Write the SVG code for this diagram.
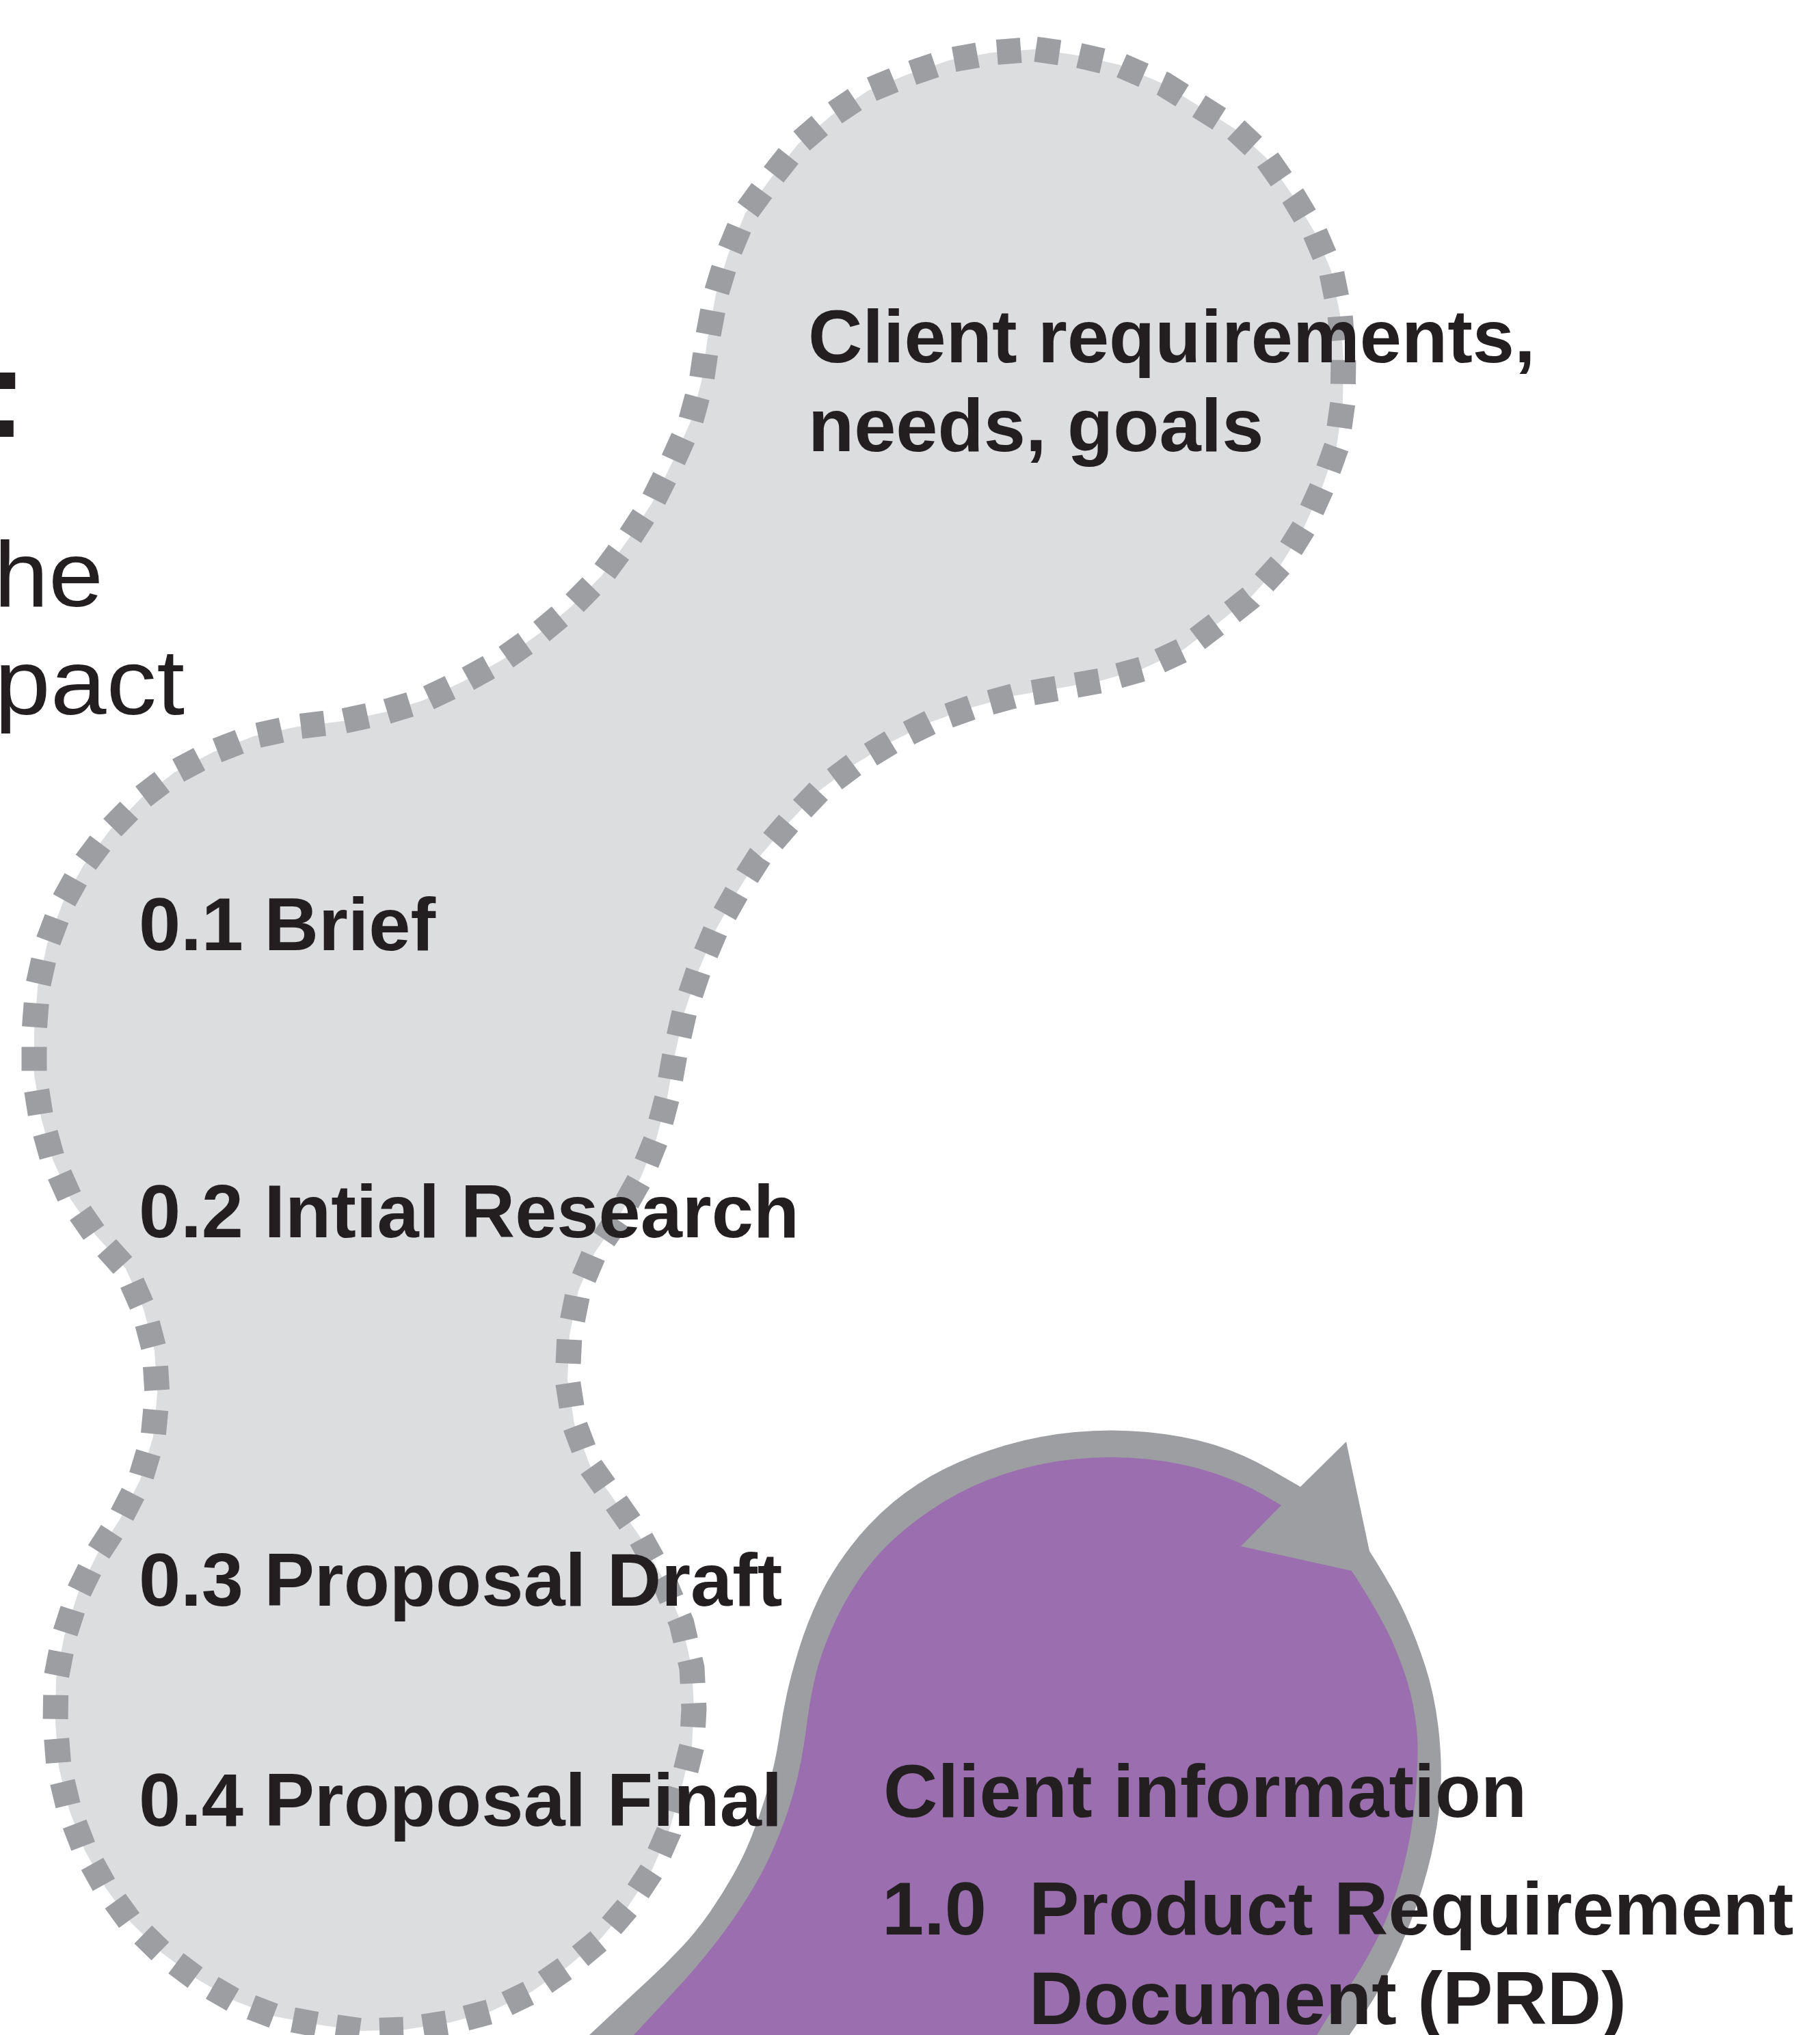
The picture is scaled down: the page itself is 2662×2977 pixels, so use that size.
<svg xmlns="http://www.w3.org/2000/svg" xmlns:xlink="http://www.w3.org/1999/xlink" width="2662" height="2977" viewBox="0 0 2662 2977">
<style>
  .bold { font-family: "Liberation Sans", Arial, Helvetica, sans-serif; font-weight: bold; fill: #231f20; }
  .light { font-family: "Liberation Sans", Arial, Helvetica, sans-serif; font-weight: 300; fill: #231f20; }
  .lbl { font-size: 110px; }
  .band { fill: #9d9ea2; }
  .purple { fill: #9b6faf; }
</style>
<defs>
  <path id="blob" d="M 1515,72 L 1577,81 L 1638,95 L 1702,123 L 1758,158 L 1807,189 L 1853,232 L 1892,288 L 1923,340 L 1947,396 L 1960,460 L 1965,525 L 1964,589 L 1955,653 L 1934,712 L 1907,772 L 1874,825 L 1829,874 L 1781,912 L 1730,951 L 1670,979 L 1609,996 L 1547,1007 L 1483,1018 L 1421,1035 L 1362,1056 L 1306,1084 L 1250,1118 L 1198,1157 L 1154,1203 L 1111,1253 L 1078,1305 L 1047,1360 L 1022,1419 L 1001,1481 L 987,1543 L 976,1605 L 960,1666 L 937,1723 L 903,1784 L 869,1834 L 846,1888 L 833,1953 L 830,2018 L 840,2083 L 863,2144 L 899,2195 L 936,2248 L 970,2310 L 997,2375 L 1012,2440 L 1015,2500 L 1012,2554 L 997,2614 L 978,2680 L 953,2737 L 918,2790 L 877,2838 L 829,2878 L 777,2914 L 717,2943 L 657,2959 L 593,2969 L 529,2971 L 466,2962 L 403,2950 L 343,2927 L 288,2895 L 237,2857 L 191,2812 L 154,2761 L 124,2707 L 101,2647 L 86,2585 L 81,2521 L 82,2455 L 94,2393 L 114,2331 L 142,2274 L 175,2223 L 205,2165 L 224,2102 L 230,2039 L 226,1976 L 210,1915 L 184,1856 L 140,1807 L 103,1754 L 77,1696 L 60,1635 L 50,1572 L 50,1509 L 55,1444 L 69,1381 L 92,1320 L 122,1266 L 161,1214 L 207,1167 L 255,1130 L 312,1100 L 371,1077 L 435,1063 L 501,1055 L 562,1042 L 618,1025 L 679,996 L 735,965 L 787,928 L 836,887 L 880,842 L 919,789 L 954,735 L 982,679 L 1010,617 L 1026,558 L 1035,495 L 1047,431 L 1065,372 L 1090,312 L 1128,260 L 1167,211 L 1217,168 L 1269,133 L 1327,109 L 1389,88 L 1450,77 Z"/>
</defs>
<rect x="0" y="0" width="2662" height="2977" fill="#ffffff"/>

<g id="title-fragment">
  <text class="bold" x="30" y="693" font-size="215" text-anchor="end">F</text>
  <text class="light" x="-9" y="887" font-size="136" textLength="160" lengthAdjust="spacingAndGlyphs">he</text>
  <text class="light" x="-8" y="1045" font-size="136" textLength="278" lengthAdjust="spacingAndGlyphs">pact</text>
</g>

<g id="connectors"></g>

<g id="node-client-information">
  <path class="band" d="M 840,3010 L 862,2977 Q 923,2920 948,2897 Q 973,2874 996.5,2849 Q 1020,2824 1038.5,2797 Q 1057,2770 1072,2743.5 Q 1087,2717 1098.5,2688.5 Q 1110,2660 1118.5,2632 Q 1127,2604 1132,2582 Q 1137,2560 1141,2532.5 Q 1145,2505 1151,2477.5 Q 1157,2450 1168.5,2412.5 Q 1180,2375 1197.5,2338 Q 1215,2301 1243.5,2263.5 Q 1272,2226 1306.5,2197.5 Q 1341,2169 1381,2149 Q 1421,2129 1470,2114.5 Q 1519,2100 1572,2095 Q 1625,2090 1678,2095 Q 1731,2100 1774,2113 Q 1817,2126 1859.5,2150.5 L 1902,2175 L 1969,2109 L 2003,2269 Q 2038,2324 2055,2361 Q 2072,2398 2085,2438.5 Q 2098,2479 2103.5,2525 Q 2109,2571 2107.5,2611 Q 2106,2651 2097.5,2694 Q 2089,2737 2074.5,2780 Q 2060,2823 2040,2866 Q 2020,2909 1997,2943 Q 1974,2977 1962,2993.5 L 1950,3010 Z"/>
  <path class="purple" d="M 900,3010 L 927,2977 Q 967,2934 990,2909 Q 1013,2884 1035,2857 Q 1057,2830 1075,2803.5 Q 1093,2777 1106.5,2753.5 Q 1120,2730 1131.5,2703.5 Q 1143,2677 1151.5,2652 Q 1160,2627 1166,2602 Q 1172,2577 1175.5,2553.5 Q 1179,2530 1182.5,2505 Q 1186,2480 1193,2450.5 Q 1200,2421 1216,2384 Q 1232,2347 1255,2312.5 Q 1278,2278 1309.5,2249.5 Q 1341,2221 1381,2196.5 Q 1421,2172 1470,2156 Q 1519,2140 1572,2134.5 Q 1625,2129 1678,2134.5 Q 1731,2140 1774,2154.5 Q 1817,2169 1845.5,2185.5 L 1874,2202 L 1815,2262 L 1977,2298 Q 2020,2364 2037.5,2404 Q 2055,2444 2063,2477 Q 2071,2510 2073,2540.5 Q 2075,2571 2070.5,2625.5 Q 2066,2680 2052,2734.5 Q 2038,2789 2015,2835 Q 1992,2881 1963,2921 Q 1934,2961 1922,2985.5 L 1910,3010 Z"/>
  <text class="bold lbl" x="1292" y="2658">Client information</text>
  <text class="bold lbl" x="1290" y="2830">1.0</text>
  <text class="bold lbl" x="1505" y="2830">Product Requirement</text>
  <text class="bold lbl" x="1505" y="2961">Document (PRD)</text>
</g>

<g id="node-discovery">
  <use href="#blob" xlink:href="#blob" fill="#dcdddf" stroke="none"/>
  <use href="#blob" xlink:href="#blob" fill="none" stroke="#9d9ea2" stroke-width="37" stroke-dasharray="35 29"/>
  <text class="bold lbl" x="1182" y="530">Client requirements,</text>
  <text class="bold lbl" x="1182" y="660">needs, goals</text>
  <text class="bold lbl" x="203" y="1390">0.1 Brief</text>
  <text class="bold lbl" x="203" y="1810">0.2 Intial Research</text>
  <text class="bold lbl" x="203" y="2349">0.3 Proposal Draft</text>
  <text class="bold lbl" x="203" y="2671">0.4 Proposal Final</text>
</g>
</svg>
